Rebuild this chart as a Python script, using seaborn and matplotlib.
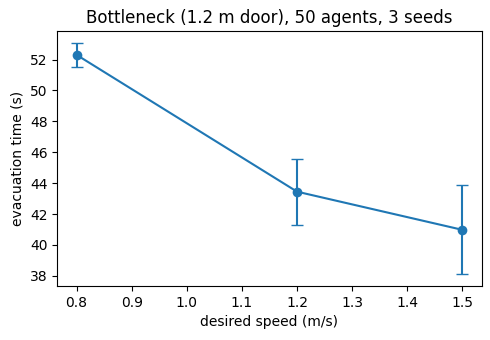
import numpy as np
import pandas as pd
import matplotlib
matplotlib.use("Agg")
import matplotlib.pyplot as plt
from matplotlib.ticker import MultipleLocator
import seaborn as sns

# desired speed vs evacuation time (mean and std over 3 seeds)
speeds = [0.8, 1.2, 1.5]
mean_time = [52.3, 43.45, 40.98]
std_time = [0.8, 2.13, 2.88]

df = pd.DataFrame({"speed": speeds, "time": mean_time, "err": std_time})

fig, ax = plt.subplots(figsize=(4.9, 3.4), dpi=100)
sns.lineplot(data=df, x="speed", y="time", marker="o", markersize=7,
             markeredgewidth=0, color="#1f77b4", ax=ax)
ax.errorbar(df["speed"], df["time"], yerr=df["err"], fmt="none",
            ecolor="#1f77b4", capsize=4)

ax.yaxis.set_major_locator(MultipleLocator(2))
ax.set_title("Bottleneck (1.2 m door), 50 agents, 3 seeds")
ax.set_xlabel("desired speed (m/s)")
ax.set_ylabel("evacuation time (s)")
fig.subplots_adjust(left=0.117, right=0.983, top=0.909, bottom=0.159)
plt.savefig("out.png")
